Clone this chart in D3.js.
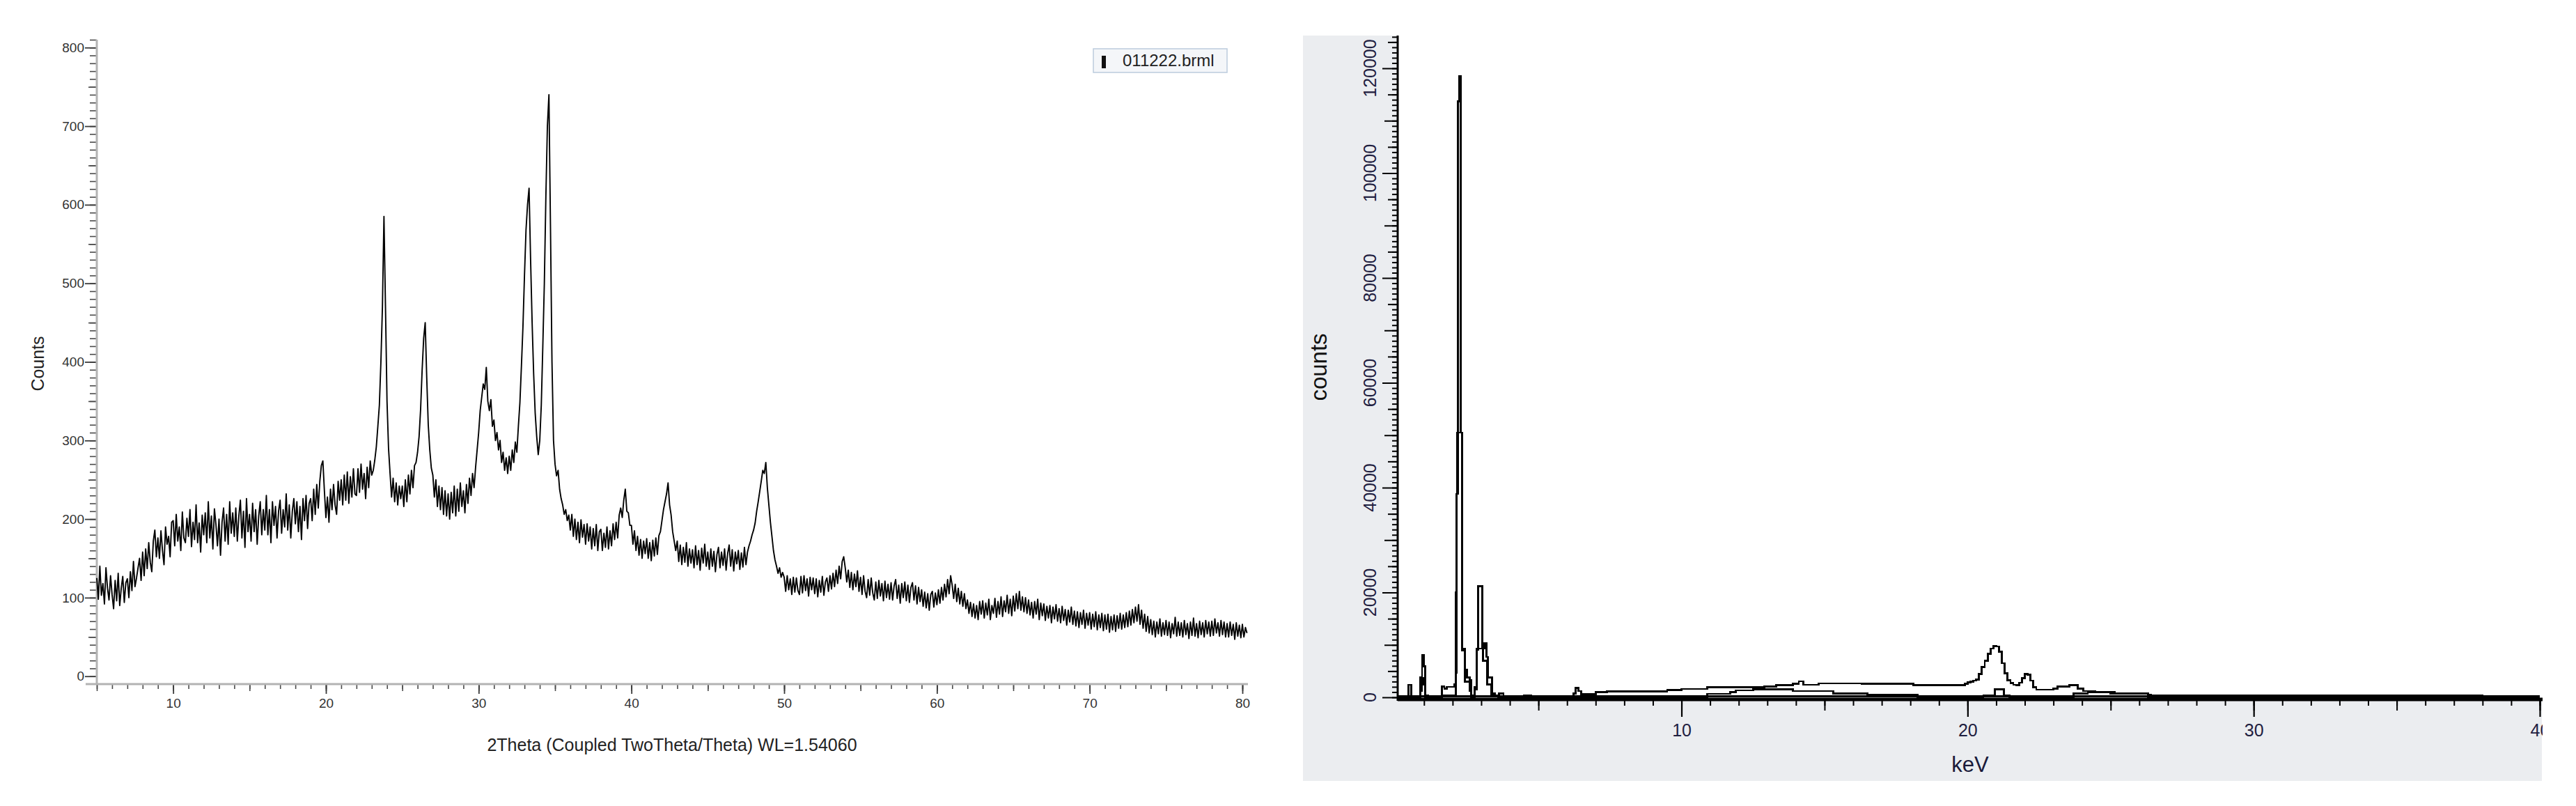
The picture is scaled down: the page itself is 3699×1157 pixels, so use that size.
<!DOCTYPE html>
<html><head><meta charset="utf-8">
<script src="https://cdn.jsdelivr.net/npm/d3@7"></script>
<style>
html,body{margin:0;padding:0;background:#fff;}
svg{display:block;}
text{font-family:"Liberation Sans",Arial,Helvetica,sans-serif;}
</style>
</head><body>
<svg id="c" width="3699" height="1157"></svg>
<script>
// ---------------- DATA ----------------
// XRD pattern: counts from 2theta = 5.0 deg in steps of 0.1 deg
const xrdStart = 5.0;
const xrdStep = 0.1;
const xrdCounts = [
125,98,140,103,118,92,138,112,97,128,
104,86,122,96,131,90,112,127,94,119,
124,100,133,109,146,114,125,138,150,122,
158,128,162,137,170,145,133,172,186,152,
176,150,185,160,142,190,168,178,152,196,
198,166,206,172,190,160,209,176,170,201,
178,212,165,196,174,218,170,195,158,205,
180,208,170,222,176,204,162,213,193,166,
200,154,196,214,172,206,168,222,182,208,
178,214,172,204,224,176,210,164,226,184,
206,172,220,184,212,168,204,222,180,212,
186,230,180,212,170,222,192,216,176,210,
224,182,212,190,232,186,218,176,210,226,
194,222,184,216,174,226,198,230,188,220,
226,198,238,206,244,214,248,268,274,236,
202,228,196,238,212,244,218,206,248,224,
250,218,256,224,260,220,254,228,264,232,
230,264,234,270,238,258,226,266,240,274,
256,262,275,292,318,345,400,470,585,470,
350,290,258,228,252,222,246,218,242,226,
242,216,250,222,256,232,262,240,268,272,
285,305,340,390,430,450,380,320,288,265,
256,228,250,216,242,212,240,206,236,204,
232,200,234,208,242,204,238,210,246,216,
236,208,244,220,252,230,258,240,266,288,
310,338,355,372,365,393,350,338,352,318,
326,300,310,288,300,272,285,262,278,258,
280,262,288,272,298,285,318,348,395,445,
510,568,600,621,530,450,385,335,305,282,
300,345,420,500,610,700,740,575,400,300,
270,255,262,238,226,218,206,212,198,205,
186,206,178,200,174,196,170,199,177,193,
168,194,172,190,162,188,166,193,160,184,
187,160,182,164,190,162,185,166,194,174,
196,176,205,214,202,224,238,210,208,192,
192,168,185,160,178,154,174,150,172,156,
175,150,170,147,173,153,176,155,179,184,
198,212,222,232,246,218,205,184,172,160,
172,146,167,142,164,145,170,140,162,144,
161,138,166,142,160,135,163,144,168,140,
158,136,162,140,159,133,155,164,138,158,
141,162,135,156,167,140,161,134,158,143,
160,136,157,139,164,142,158,166,172,180,
186,195,210,222,235,248,262,258,272,240,
218,196,178,160,148,140,131,138,126,132,
126,108,128,110,124,104,126,107,125,109,
104,127,106,128,109,124,102,126,110,125,
105,124,101,122,107,127,103,120,125,108,
128,111,131,114,135,118,140,124,146,152,
138,120,135,113,132,110,130,114,134,108,
126,104,128,108,100,123,103,125,106,97,
120,99,122,102,118,96,121,100,117,98,
119,97,115,123,99,116,93,118,100,120,
96,116,94,113,119,97,115,92,113,95,
110,89,107,87,105,84,104,108,88,106,
91,110,93,113,97,117,101,123,105,128,
116,99,117,95,112,92,108,89,105,86,
97,80,94,76,92,74,90,72,95,79,
96,74,93,78,98,72,90,80,99,75,
95,79,101,76,96,82,103,80,98,77,
102,83,105,86,108,84,101,82,100,80,
97,78,94,74,95,79,98,72,93,77,
92,71,89,74,90,68,88,73,91,70,
86,68,89,71,85,65,84,69,88,66,
83,64,82,62,81,66,84,61,80,65,
81,60,79,63,82,59,78,62,80,58,
78,60,79,56,76,59,78,57,77,61,
80,60,78,62,81,63,83,65,85,68,
88,70,91,66,84,61,79,57,76,55,
72,53,70,50,69,54,73,51,68,53,
71,52,69,49,67,54,75,51,69,52,
68,50,71,53,67,48,69,52,74,51,
67,49,70,53,68,50,71,54,69,51,
70,52,73,55,68,51,71,53,69,50,
67,50,69,52,66,47,68,51,65,49,
66,50,62,55
];
const xrdXLabels = [10,20,30,40,50,60,70,80];
const xrdYLabels = [0,100,200,300,400,500,600,700,800];
const xrdXTitle = "2Theta (Coupled TwoTheta/Theta) WL=1.54060";
const xrdYTitle = "Counts";
const xrdLegend = "011222.brml";

// EDS spectra (step breakpoints: keV, counts)
const edsAKev = [0.08,0.45,0.56,0.87,0.93,1.00,1.05,1.15,1.63,1.71,1.80,2.06,2.10,2.14,2.18,2.22,2.28,2.33,2.42,2.50,2.60,2.65,2.76,2.85,2.90,3.03,3.12,3.19,3.24,3.37,3.47,3.62,3.78,4.50,4.74,4.88,6.22,6.30,6.40,6.50,7.00,7.40,9.50,10.0,10.9,12.9,13.3,13.9,14.1,14.25,14.8,16.3,18.1,19.4,19.9,20.0,20.1,20.2,20.3,20.4,20.5,20.6,20.7,20.8,20.9,21.0,21.1,21.2,21.3,21.4,21.5,21.6,21.7,21.8,21.9,22.0,22.1,22.2,22.3,22.4,23.0,23.15,23.55,23.85,24.05,24.45,25.15,26.3,26.4,37.9,38.0,40.0];
const edsACounts = [250,2400,250,3800,8000,5900,400,150,2100,1700,2000,2500,4700,38800,113700,118500,50500,9300,5200,3800,3300,400,2000,9100,21200,9300,10300,7700,3800,700,400,700,100,310,150,260,680,1800,1200,570,1040,1100,1350,1600,1950,2100,2300,2550,3050,2400,2650,2550,2300,2350,2600,2850,3000,3200,3400,4500,5800,7000,8300,9300,9800,9700,8700,6500,4600,3300,2700,2400,2350,2800,3700,4400,4300,3200,1900,1450,1700,2100,2300,1650,1200,980,670,440,300,300,30,30];
const edsBKev = [0.08,0.87,0.93,1.00,1.05,1.63,2.06,2.12,2.15,2.30,2.33,2.42,2.60,2.65,2.78,2.84,3.06,3.20,3.35,3.60,10.9,11.7,11.9,12.5,13.9,15.3,16.5,18.25,20.55,20.95,21.27,21.47,23.7,24.2,25.0,26.3,40.0];
const edsBCounts = [0,1200,3700,2500,0,300,400,20000,50500,50500,9000,3000,1200,0,1500,9300,7000,2500,300,0,670,980,1330,1500,1200,750,440,90,300,1500,300,90,750,980,750,90,90];
const edsCKev = [0.08,40.0];
const edsCCounts = [150,150];
const edsXLabels = [10,20,30,40];
const edsYLabels = [0,20000,40000,60000,80000,100000,120000];
const edsXTitle = "keV";
const edsYTitle = "counts";

// ---------------- DRAW ----------------
const svg = d3.select('#c');
const FONT = '"Liberation Sans",Arial,Helvetica,sans-serif';

function cleanAxis(g, color, width){
  g.attr('font-size', null).attr('font-family', null);
  g.select('.domain').remove();
  g.selectAll('.tick line').attr('stroke', color).attr('stroke-width', width);
}

// ===== Left: XRD =====
const xL = d3.scaleLinear().domain([5, 80]).range([139, 1784]);
const yL = d3.scaleLinear().domain([-10, 810]).range([982, 57]);
const gL = svg.append('g');

const xrd = xrdCounts.map((c, i) => ({t: xrdStart + i * xrdStep, c}));

// y ticks
[[d3.range(0, 811, 10), 10], [d3.range(50, 800, 100), 12]].forEach(([vals, size]) => {
  gL.append('g').attr('transform', `translate(${xL(5)},0)`)
    .call(d3.axisLeft(yL).tickValues(vals).tickSize(size).tickFormat(''))
    .call(g => cleanAxis(g, '#4a4a4a', 1.6));
});
gL.append('g').attr('transform', `translate(${xL(5)},0)`)
  .call(d3.axisLeft(yL).tickValues(xrdYLabels).tickSize(17).tickPadding(1).tickFormat(d3.format('d')))
  .call(g => {
    cleanAxis(g, '#3a3a3a', 1.8);
    g.selectAll('.tick text').attr('fill', '#333').style('font-size', '19px').style('font-family', FONT);
  });

// x ticks
[[d3.range(5, 81, 1), 7], [d3.range(5, 81, 5), 10]].forEach(([vals, size]) => {
  gL.append('g').attr('transform', `translate(0,${yL(-10)})`)
    .call(d3.axisBottom(xL).tickValues(vals).tickSize(size).tickFormat(''))
    .call(g => cleanAxis(g, '#4a4a4a', 1.6));
});
gL.append('g').attr('transform', `translate(0,${yL(-10)})`)
  .call(d3.axisBottom(xL).tickValues(xrdXLabels).tickSize(14).tickPadding(7).tickFormat(d3.format('d')))
  .call(g => {
    cleanAxis(g, '#3a3a3a', 1.8);
    g.selectAll('.tick text').attr('fill', '#333').style('font-size', '19px').style('font-family', FONT);
  });

// axis lines (light gray)
gL.append('line').attr('x1', 123).attr('x2', 1792).attr('y1', yL(-10)).attr('y2', yL(-10))
  .attr('stroke', '#b3b3b3').attr('stroke-width', 3);
gL.append('line').attr('x1', xL(5)).attr('x2', xL(5)).attr('y1', yL(810)).attr('y2', yL(-10))
  .attr('stroke', '#b3b3b3').attr('stroke-width', 3);

// data line
gL.append('path').datum(xrd)
  .attr('fill', 'none').attr('stroke', '#000').attr('stroke-width', 1.9).attr('stroke-linejoin', 'round')
  .attr('d', d3.line().x(d => xL(d.t)).y(d => yL(d.c)));

// titles
gL.append('text').attr('transform', 'translate(63,522) rotate(-90)').attr('text-anchor', 'middle')
  .style('font-size', '25px').attr('fill', '#222').text(xrdYTitle);
gL.append('text').attr('x', 965).attr('y', 1078).attr('text-anchor', 'middle')
  .style('font-size', '25px').attr('fill', '#222').text(xrdXTitle);

// legend
gL.append('rect').attr('x', 1570).attr('y', 70).attr('width', 192).attr('height', 34)
  .attr('fill', '#f4f6f9').attr('stroke', '#bccbdd').attr('stroke-width', 1.5);
gL.append('rect').attr('x', 1582).attr('y', 80).attr('width', 6).attr('height', 18).attr('fill', '#111');
gL.append('text').attr('x', 1612).attr('y', 95).style('font-size', '24px').attr('fill', '#222').text(xrdLegend);

// ===== Right: EDS =====
const xR = d3.scaleLinear().domain([0.08, 40]).range([2007, 3647]);
const yR = d3.scaleLinear().domain([-400, 126250]).range([1004, 51]);
const gR = svg.append('g');

const defs = svg.append('defs');
defs.append('clipPath').attr('id', 'panelClip').append('rect')
  .attr('x', 1860).attr('y', 40).attr('width', 3651 - 1860).attr('height', 1100);
defs.append('clipPath').attr('id', 'plotClip').append('rect')
  .attr('x', 2007).attr('y', 51).attr('width', 3651 - 2007).attr('height', 1004 - 51);

gR.attr('clip-path', 'url(#panelClip)');
gR.append('rect').attr('x', 1871).attr('y', 51).attr('width', 3650 - 1871).attr('height', 1121 - 51).attr('fill', '#ebedf0');
gR.append('rect').attr('x', 2007).attr('y', 51).attr('width', 3650 - 2007).attr('height', 1004 - 51).attr('fill', '#fff');

// spectra
const lineR = d3.line().x(d => xR(d[0])).y(d => yR(d[1])).curve(d3.curveStepAfter);
const spectra = [
  d3.zip(edsCKev, edsCCounts),
  d3.zip(edsBKev, edsBCounts),
  d3.zip(edsAKev, edsACounts)
];
const gS = gR.append('g').attr('clip-path', 'url(#plotClip)');
spectra.forEach(s => {
  gS.append('path').datum(s).attr('fill', 'none').attr('stroke', '#000')
    .attr('stroke-width', 2.8).attr('shape-rendering', 'crispEdges').attr('d', lineR);
});

// y ticks
[[d3.range(0, 126001, 1000), 8], [d3.range(5000, 126001, 10000), 14], [d3.range(10000, 126001, 20000), 19], [edsYLabels, 22]].forEach(([vals, size]) => {
  gR.append('g').attr('transform', `translate(${xR(0.08)},0)`)
    .call(d3.axisLeft(yR).tickValues(vals).tickSize(size).tickFormat(''))
    .call(g => cleanAxis(g, '#000', 2));
});
gR.selectAll('text.ylab').data(edsYLabels).join('text').attr('class', 'ylab')
  .attr('transform', d => `translate(1976,${yR(d)}) rotate(-90)`)
  .attr('text-anchor', 'middle').style('font-size', '25px').attr('fill', '#1f2040')
  .text(d => d3.format('d')(d));

// x ticks
[[d3.range(1, 41, 1), 7], [d3.range(5, 41, 5), 14]].forEach(([vals, size]) => {
  gR.append('g').attr('transform', `translate(0,1006)`)
    .call(d3.axisBottom(xR).tickValues(vals).tickSize(size).tickFormat(''))
    .call(g => cleanAxis(g, '#000', 2));
});
gR.append('g').attr('transform', `translate(0,1006)`)
  .call(d3.axisBottom(xR).tickValues(edsXLabels).tickSize(23).tickPadding(10).tickFormat(d3.format('d')))
  .call(g => {
    cleanAxis(g, '#000', 2.2);
    g.selectAll('.tick text').attr('fill', '#1f2040').style('font-size', '25px').style('font-family', FONT);
  });

// axis lines
gR.append('line').attr('x1', xR(0.08)).attr('x2', xR(0.08)).attr('y1', 51).attr('y2', 1006)
  .attr('stroke', '#000').attr('stroke-width', 3);
gR.append('line').attr('x1', xR(0.08)).attr('x2', 3651).attr('y1', 1004).attr('y2', 1004)
  .attr('stroke', '#000').attr('stroke-width', 5);

// titles
gR.append('text').attr('transform', 'translate(1905,527) rotate(-90)').attr('text-anchor', 'middle')
  .style('font-size', '33px').attr('fill', '#111').text(edsYTitle);
gR.append('text').attr('x', 2829).attr('y', 1108).attr('text-anchor', 'middle')
  .style('font-size', '31px').attr('fill', '#1a1a3a').text(edsXTitle);
</script>
</body></html>
